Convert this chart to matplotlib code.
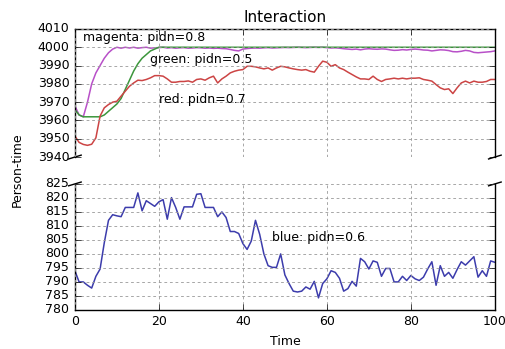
import matplotlib
matplotlib.use('Agg')
import matplotlib.pyplot as plt
import numpy as np

# person-time per step for each pidn setting
time = np.arange(0, 101)

magenta = [3968, 3963, 3962, 3970, 3980, 3986, 3990, 3994, 3997, 3999,
           4000, 3999.5, 4000, 3999.6, 4000, 3999.5, 3999.8, 4000, 3999.5, 3999.7,
           3999.8, 4000, 3999.6, 3999.8, 3999.5, 3999.7, 3999.8, 3999.5, 3999.6, 3999.8,
           3999.7, 3999.5, 3999.6, 3999.4, 3999.5, 3999.3, 3999.2, 3998.8, 3998.3, 3998.0,
           3999.0, 3999.3, 3999.5, 3999.6, 3999.5, 3999.7, 3999.8, 3999.6, 3999.7, 3999.8,
           3999.9, 3999.8, 3999.9, 4000, 3999.9, 3999.8, 3999.9, 4000, 3999.9, 4000,
           3999.8, 3999.6, 3999.7, 3999.5, 3999.2, 3999.0, 3998.8, 3999.0, 3998.6, 3999.0,
           3999.2, 3999.0, 3998.9, 3999.1, 3999.0, 3998.6, 3998.3, 3998.4, 3998.7, 3998.5,
           3998.8, 3999.0, 3998.8, 3998.5, 3998.4, 3998.0, 3998.3, 3998.6, 3998.5, 3998.2,
           3997.6, 3997.5, 3997.8, 3998.3, 3998.0, 3997.2, 3997.0, 3997.2, 3997.4, 3997.6,
           3998.0]

green = [3966, 3963, 3962, 3962, 3962, 3962, 3962, 3963, 3965, 3967,
         3969, 3972, 3977, 3982, 3987, 3991, 3994, 3996, 3998, 3999,
         4000] + [4000] * 80

red = [3951.5, 3948, 3946.9, 3946.4, 3947, 3950.5, 3962.4, 3966.9, 3968.7, 3970,
       3970.5, 3973.3, 3976, 3978.7, 3980.5, 3982, 3981.8, 3982.4, 3983.3, 3984.5,
       3984.5, 3984.2, 3982.7, 3980.9, 3980.9, 3981.3, 3981.3, 3981.6, 3980.9, 3982.4,
       3982.7, 3982, 3983.3, 3984.2, 3980.5, 3982.7, 3984.2, 3986, 3986.9, 3987.5,
       3987.8, 3989.6, 3989.6, 3989.3, 3988.7, 3988.2, 3988.7, 3987.5, 3988.7, 3989.6,
       3989.3, 3988.7, 3988.2, 3987.8, 3987.5, 3987.8, 3986.9, 3986.4, 3989.6, 3992.4,
       3991.8, 3989.6, 3990.5, 3988.7, 3987.8, 3986.4, 3985.1, 3983.8, 3982.7, 3982.7,
       3982.4, 3984.2, 3982.4, 3981.3, 3982.4, 3982.7, 3983.1, 3982.7, 3983.1, 3982.7,
       3983.1, 3983.1, 3983.3, 3982.4, 3982, 3981.5, 3979.6, 3977.8, 3976.9, 3977.3,
       3974.7, 3977.8, 3980.5, 3981.5, 3980.5, 3981.5, 3980.9, 3980.9, 3981.3, 3982.4,
       3982.4]

blue = [794, 790, 790, 788.8, 787.8, 792, 794.6, 804, 812, 814,
        813.6, 813.3, 816.6, 816.6, 816.6, 821.8, 815.4, 819, 818, 817,
        818.6, 819.4, 812.4, 820.1, 816.6, 812.4, 816.8, 816.8, 816.8, 821.3,
        821.5, 816.6, 816.6, 816.6, 813.3, 815, 813, 808, 808, 807.3,
        803.7, 801.6, 804.6, 812, 807, 800, 795.8, 795.2, 795.2, 800,
        792.5, 789.4, 786.7, 786.4, 786.7, 788.2, 787.4, 790.2, 784.3, 789.4,
        791.1, 794, 793.4, 791.3, 786.7, 787.6, 790.2, 788.5, 798.4, 797.2,
        794.6, 797.5, 797, 792, 794.8, 794.8, 790, 790, 792, 790.5,
        792.3, 791.1, 790.5, 791.7, 794.6, 797.2, 788.8, 795.8, 792, 793.4,
        791.3, 794.4, 797.2, 796, 797.5, 799, 791.7, 794, 792, 797.5,
        797]

top_yticks = [3940, 3950, 3960, 3970, 3980, 3990, 4000, 4010]
bottom_yticks = [780, 785, 790, 795, 800, 805, 810, 815, 820, 825]

plt.style.use('classic')
plt.rcParams['font.family'] = ['DejaVu Sans']

fig = plt.figure(figsize=(5.06, 3.49), dpi=100, facecolor='white')
ax = fig.add_axes([0.148, 0.550, 0.830, 0.367])
ax2 = fig.add_axes([0.148, 0.112, 0.830, 0.361])

ax.plot(time, magenta, color='#b850c8', lw=1.1)
ax.plot(time, green, color='#3c963c', lw=1.1)
ax.plot(time, red, color='#cc4444', lw=1.1)
ax2.plot(time, blue, color='#3c3cac', lw=1.1)

ax.set_ylim(3940, 4010)
ax2.set_ylim(780, 825)
for a in (ax, ax2):
    a.set_xlim(0, 100)
    a.set_facecolor('white')
    a.grid(True, color='0.6', linestyle=(0, (2, 2)), linewidth=0.6)
    a.tick_params(axis='both', labelsize=9, direction='in')
    a.ticklabel_format(axis='y', useOffset=False)
ax.set_yticks(top_yticks)
ax2.set_yticks(bottom_yticks)

# hide the spines between the two panels
ax.spines['bottom'].set_visible(False)
ax2.spines['top'].set_visible(False)
ax.xaxis.tick_top()
ax.tick_params(labeltop=False)
ax2.xaxis.tick_bottom()

# diagonal break marks
d = .015
kwargs = dict(transform=ax.transAxes, color='k', clip_on=False, lw=1)
ax.plot((-d, +d), (-d, +d), **kwargs)
ax.plot((1 - d, 1 + d), (-d, +d), **kwargs)
kwargs.update(transform=ax2.transAxes)
ax2.plot((-d, +d), (1 - d, 1 + d), **kwargs)
ax2.plot((1 - d, 1 + d), (1 - d, 1 + d), **kwargs)

ax.text(2, 4005.5, 'magenta: pidn=0.8', fontsize=9, va='center')
ax.text(18, 3993.5, 'green: pidn=0.5', fontsize=9, va='center')
ax.text(20, 3971.5, 'red: pidn=0.7', fontsize=9, va='center')
ax2.text(47, 806, 'blue: pidn=0.6', fontsize=9, va='center')

ax.set_title('Interaction', fontsize=11)
ax2.set_xlabel('Time', fontsize=9)
fig.text(0.035, 0.515, 'Person-time', rotation=90, fontsize=9,
         ha='center', va='center')

plt.savefig('out.png', dpi=100, facecolor='white')
plt.close(fig)
